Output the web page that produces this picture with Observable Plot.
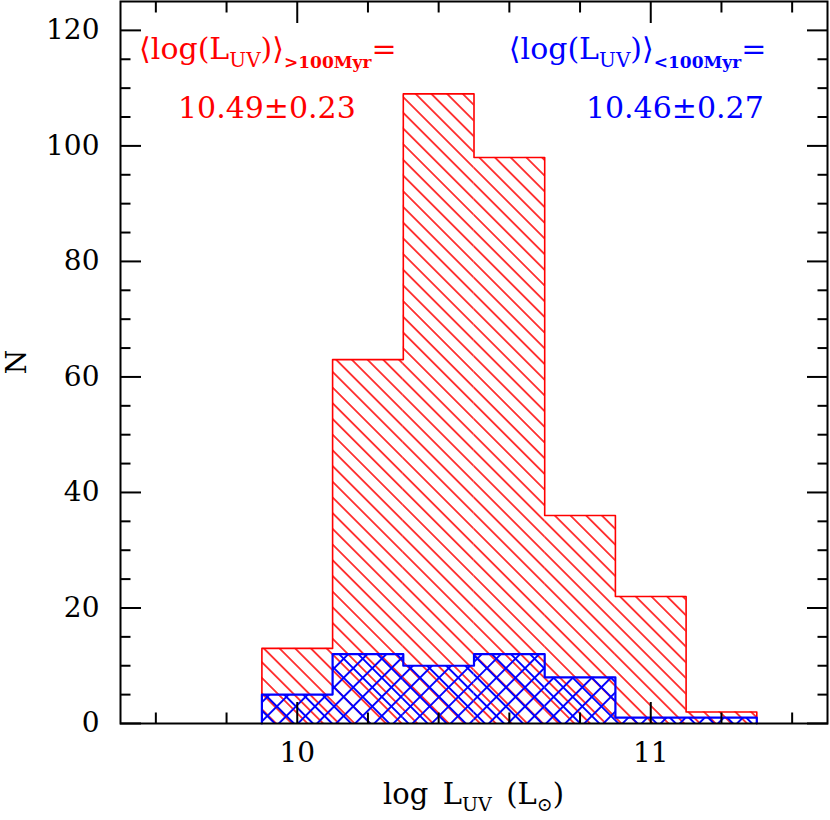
<!DOCTYPE html>
<html>
<head>
<meta charset="utf-8">
<script src="https://cdn.jsdelivr.net/npm/d3@7"></script>
<script src="https://cdn.jsdelivr.net/npm/@observablehq/plot@0.6"></script>
<style>
  body { margin: 0; background: #fff; }
  #chart svg { display: block; }
</style>
</head>
<body>
<div id="chart"></div>
<script>
// ---- data ----
const binEdges = [9.9, 10.1, 10.3, 10.5, 10.7, 10.9, 11.1, 11.3];
const oldCounts = [13, 63, 109, 98, 36, 22, 2];    // > 100 Myr (red)
const youngCounts = [5, 12, 10, 12, 8, 1, 1];      // < 100 Myr (blue)
const xMajorTicks = [10, 11];
const xMinorTicks = [9.6, 9.8, 10.2, 10.4, 10.6, 10.8, 11.2, 11.4];
const yMajorTicks = [0, 20, 40, 60, 80, 100, 120];
const yMinorTicks = [5, 10, 15, 25, 30, 35, 45, 50, 55, 65, 70, 75, 85, 90, 95, 105, 110, 115];
const oldLabel = ["⟨log(L", "UV", ")⟩", ">100Myr", "="];
const youngLabel = ["⟨log(L", "UV", ")⟩", "<100Myr", "="];
const oldValue = "10.49±0.23";
const youngValue = "10.46±0.27";

const FONT = "'DejaVu Serif', 'Liberation Serif', serif";
const RED = "#ff0000";
const BLUE = "#0000ff";

const table = oldCounts.map((c, i) => ({x1: binEdges[i], x2: binEdges[i + 1], old: c, young: youngCounts[i]}));

function outline(counts) {
  const pts = [];
  for (let i = 0; i <= counts.length; i++) {
    pts.push({x: binEdges[i], y: i === 0 ? 0 : counts[i - 1]});
    pts.push({x: binEdges[i], y: i === counts.length ? 0 : counts[i]});
  }
  return pts;
}

const tickCommon = {label: null, fill: "none", stroke: "black", strokeWidth: 2};
const textCommon = {label: null, tickSize: 0, fontSize: 28, fontFamily: FONT, fill: "black"};

const plot = Plot.plot({
  width: 830,
  height: 820,
  marginLeft: 120,
  marginRight: 3,
  marginTop: 1,
  marginBottom: 97,
  style: {fontFamily: FONT, background: "white", overflow: "visible"},
  x: {domain: [9.5, 11.5]},
  y: {domain: [0, 125]},
  marks: [
    Plot.rectY(table, {x1: "x1", x2: "x2", y: "old", fill: "url(#hatchRed)"}),
    Plot.line(outline(oldCounts), {x: "x", y: "y", stroke: RED, strokeWidth: 1.6}),
    Plot.rectY(table, {x1: "x1", x2: "x2", y: "young", fill: "url(#hatchBlue)"}),
    Plot.line(outline(youngCounts), {x: "x", y: "y", stroke: BLUE, strokeWidth: 2.2}),
    // inward ticks on all four sides
    Plot.axisX({...tickCommon, anchor: "bottom", ticks: xMajorTicks, tickSize: -21}),
    Plot.axisX({...tickCommon, anchor: "bottom", ticks: xMinorTicks, tickSize: -10.5}),
    Plot.axisX({...tickCommon, anchor: "top", ticks: xMajorTicks, tickSize: -21}),
    Plot.axisX({...tickCommon, anchor: "top", ticks: xMinorTicks, tickSize: -10.5}),
    Plot.axisY({...tickCommon, anchor: "left", ticks: yMajorTicks, tickSize: -21}),
    Plot.axisY({...tickCommon, anchor: "left", ticks: yMinorTicks, tickSize: -10.5}),
    Plot.axisY({...tickCommon, anchor: "right", ticks: yMajorTicks, tickSize: -21}),
    Plot.axisY({...tickCommon, anchor: "right", ticks: yMinorTicks, tickSize: -10.5}),
    // tick labels
    Plot.axisX({...textCommon, anchor: "bottom", ticks: xMajorTicks, tickPadding: 19, tickFormat: d3.format("d")}),
    Plot.axisY({...textCommon, anchor: "left", ticks: yMajorTicks, tickPadding: 21, tickFormat: d3.format("d")}),
    Plot.frame({stroke: "black", strokeWidth: 2})
  ]
});

document.getElementById("chart").appendChild(plot);

const svg = d3.select(plot);
const defs = svg.insert("defs", ":first-child");
const spR = 11.1, spB = 13.5;
const pr = defs.append("pattern").attr("id", "hatchRed").attr("patternUnits", "userSpaceOnUse")
  .attr("width", spR).attr("height", spR).attr("patternTransform", "rotate(-45)");
pr.append("line").attr("x1", spR / 2).attr("x2", spR / 2).attr("y1", -1).attr("y2", spR + 1)
  .attr("stroke", RED).attr("stroke-width", 1.5);
const pb = defs.append("pattern").attr("id", "hatchBlue").attr("patternUnits", "userSpaceOnUse")
  .attr("width", spB).attr("height", spB).attr("patternTransform", "rotate(45)");
pb.append("line").attr("x1", spB / 2).attr("x2", spB / 2).attr("y1", -1).attr("y2", spB + 1)
  .attr("stroke", BLUE).attr("stroke-width", 1.9);
pb.append("line").attr("y1", spB / 2).attr("y2", spB / 2).attr("x1", -1).attr("x2", spB + 1)
  .attr("stroke", BLUE).attr("stroke-width", 1.9);

const sx = plot.scale("x"), sy = plot.scale("y");

function label(parts, color, x, y) {
  const t = svg.append("text").attr("x", x).attr("y", y).attr("fill", color)
    .attr("text-anchor", "start")
    .style("font-family", FONT).style("font-size", "30px");
  t.append("tspan").text(parts[0]);
  t.append("tspan").attr("dy", 8).style("font-size", "20px").text(parts[1]);
  t.append("tspan").attr("dy", -8).text(parts[2]);
  t.append("tspan").attr("dy", 9).style("font-size", "17px").style("font-weight", "bold").text(parts[3]);
  t.append("tspan").attr("dy", -9).text(parts[4]);
}
label(oldLabel, RED, sx.apply(9.554), sy.apply(115));
label(youngLabel, BLUE, sx.apply(10.60), sy.apply(115));

svg.append("text").attr("x", sx.apply(9.664)).attr("y", sy.apply(104.8)).attr("fill", RED)
  .attr("text-anchor", "start")
  .style("font-family", FONT).style("font-size", "30px").text(oldValue);
svg.append("text").attr("x", sx.apply(10.818)).attr("y", sy.apply(104.8)).attr("fill", BLUE)
  .attr("text-anchor", "start")
  .style("font-family", FONT).style("font-size", "30px").text(youngValue);

// x axis title
const xt = svg.append("text").attr("x", (sx.range[0] + sx.range[1]) / 2).attr("y", 804)
  .attr("text-anchor", "middle").attr("fill", "black")
  .style("font-family", FONT).style("font-size", "29px");
xt.append("tspan").text("log\u2002L");
xt.append("tspan").attr("dy", 7).style("font-size", "19px").text("UV");
xt.append("tspan").attr("dy", -7).text("\u2002(L");
xt.append("tspan").attr("dy", 7).style("font-size", "19px").text("⊙");
xt.append("tspan").attr("dy", -7).text(")");

// y axis title
svg.append("text").attr("transform", `translate(26,${(sy.range[0] + sy.range[1]) / 2}) rotate(-90)`)
  .attr("text-anchor", "middle").attr("fill", "black")
  .style("font-family", FONT).style("font-size", "28px").text("N");
</script>
</body>
</html>
